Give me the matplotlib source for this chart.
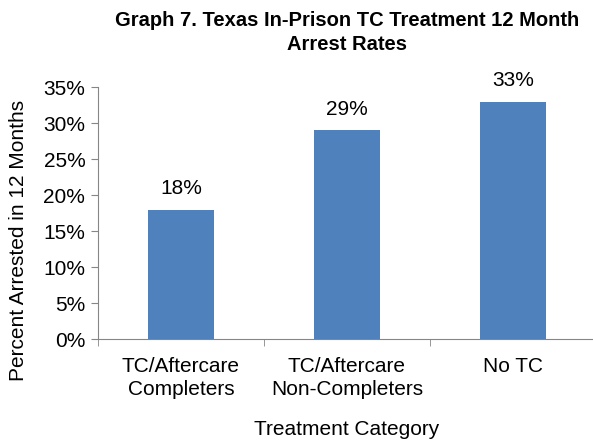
import matplotlib.pyplot as plt

plt.rcParams['font.family'] = ['Liberation Sans', 'DejaVu Sans']

categorias = ['TC/Aftercare\nCompleters', 'TC/Aftercare\nNon-Completers', 'No TC']
tasas = [18, 29, 33]
etiquetas = ['18%', '29%', '33%']

fig = plt.figure(figsize=(5.93, 4.45), dpi=100)
ax = fig.add_axes([0.165, 0.238, 0.84, 0.566])

x = range(len(categorias))
ax.bar(x, tasas, width=0.4, color='#4F81BD', zorder=2)
for i, v in enumerate(tasas):
    ax.text(i, v + 1.6, etiquetas[i], ha='center', va='bottom', fontsize=15)

ax.set_xlim(-0.5, 2.5)
ax.set_ylim(0, 35)
ax.set_yticks(range(0, 36, 5))
ax.set_yticklabels([f'{t}%' for t in range(0, 36, 5)], fontsize=15)
ax.set_xticks(list(x))
ax.set_xticklabels(categorias, fontsize=15, linespacing=1.25)
ax.tick_params(axis='x', length=0, pad=13)
ax.set_xticks([-0.5, 0.5, 1.5, 2.5], minor=True)
ax.tick_params(axis='x', which='minor', length=5, color='#868686')
ax.tick_params(axis='y', length=5, color='#868686', pad=4)

for s in ['top', 'right']:
    ax.spines[s].set_visible(False)
for s in ['left', 'bottom']:
    ax.spines[s].set_color('#868686')

ax.set_ylabel('Percent Arrested in 12 Months', fontsize=15)
ax.yaxis.set_label_coords(-0.14, 0.39)
ax.set_xlabel('Treatment Category', fontsize=15, labelpad=15)
fig.suptitle('Graph 7. Texas In-Prison TC Treatment 12 Month\nArrest Rates',
             fontsize=14.5, fontweight='bold', x=0.586, y=0.975, linespacing=1.35)

fig.savefig('out.png', dpi=100)
